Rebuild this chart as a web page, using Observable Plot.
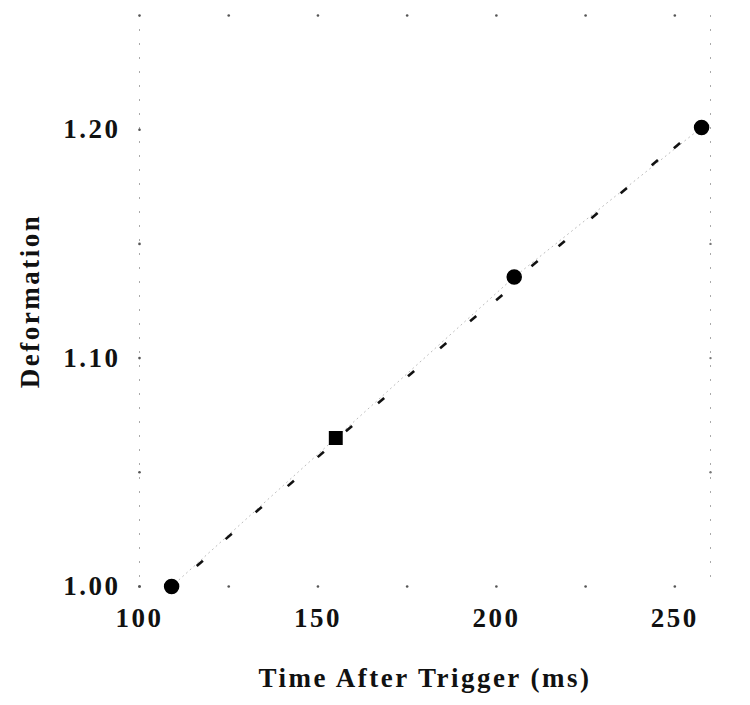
<!DOCTYPE html>
<html>
<head>
<meta charset="utf-8">
<script src="https://cdn.jsdelivr.net/npm/d3@7"></script>
<script src="https://cdn.jsdelivr.net/npm/@observablehq/plot@0.6"></script>
<style>
  body { margin: 0; background: #fff; }
  #chart svg { display: block; }
  #chart svg text { font-size: 27px; letter-spacing: 2.5px; font-weight: bold; }
</style>
</head>
<body>
<div id="chart"></div>
<script>
// Large markers (measured points)
const bigTime = [109, 155, 205, 257.5];
const bigDef = [1.000, 1.065, 1.1355, 1.201];
const bigShape = ["circle", "square", "circle", "circle"];

// Small dash markers along the fitted curve
const smallTime = [116.9, 125.0, 133.4, 142.4, 150.8, 158.7, 167.7, 176.1, 185.1, 193.5, 200.8, 210.7, 218.3, 227.5, 235.7, 244.4, 250.6];
const smallDef = [1.0101, 1.0219, 1.0337, 1.0451, 1.0578, 1.0691, 1.0814, 1.0932, 1.1055, 1.1173, 1.1265, 1.1414, 1.1501, 1.1624, 1.1733, 1.1856, 1.1930];

// Axes
const xLabelTicks = [100, 150, 200, 250];
const xMinorTicks = [100, 125, 150, 175, 200, 225, 250];
const yLabelTicks = [1.00, 1.10, 1.20];
const yMinorTicks = [1.00, 1.05, 1.10, 1.15, 1.20];
const xDomain = [100, 260];
const yDomain = [1.00, 1.25];

const big = bigTime.map((t, i) => ({t, d: bigDef[i], s: bigShape[i]}));
const small = smallTime.map((t, i) => ({t, d: smallDef[i]}));

const dash = {
  draw(ctx, size) {
    const r = Math.sqrt(size) / 2;
    ctx.moveTo(-r, r * 0.85);
    ctx.lineTo(r, -r * 0.85);
  }
};

const chart = Plot.plot({
  width: 750,
  height: 705,
  marginLeft: 139,
  marginRight: 40,
  marginTop: 15,
  marginBottom: 119,
  style: {fontFamily: "'Liberation Serif', 'DejaVu Serif', serif", fontWeight: "bold", fontSize: "27px", color: "#111", background: "#fff"},
  x: {domain: xDomain},
  y: {domain: yDomain},
  symbol: {domain: ["circle", "square"], range: ["circle", "square"]},
  marks: [
    // faint frame sides
    Plot.ruleX([xDomain[0], xDomain[1]], {stroke: "#aaa", strokeWidth: 1, strokeDasharray: "2,12"}),
    // tick dots on frame
    Plot.dot(xMinorTicks, {x: d => d, y: yDomain[0], r: 1.3, fill: "#555", stroke: null}),
    Plot.dot(xMinorTicks, {x: d => d, y: yDomain[1], r: 1.3, fill: "#555", stroke: null}),
    Plot.dot(yMinorTicks, {y: d => d, x: xDomain[0], r: 1.3, fill: "#555", stroke: null}),
    Plot.dot(yMinorTicks.slice(1, 4), {y: d => d, x: xDomain[1], r: 1.2, fill: "#777", stroke: null}),
    // axes labels
    Plot.axisX(xLabelTicks, {anchor: "bottom", tickSize: 0, tickPadding: 21, tickFormat: d => String(d),
      label: "Time After Trigger (ms)", labelAnchor: "center", labelOffset: 100, labelArrow: "none"}),
    Plot.axisY(yLabelTicks, {anchor: "left", tickSize: 0, tickPadding: 19, tickFormat: d => d.toFixed(2),
      label: "Deformation", labelAnchor: "center", labelOffset: 120, labelArrow: "none"}),
    // faint fit line
    Plot.line(big, {x: "t", y: "d", stroke: "#bbb", strokeWidth: 1, strokeDasharray: "1,4"}),
    // small dash markers
    Plot.dot(small, {x: "t", y: "d", symbol: () => dash, r: 3.5, stroke: "#111", strokeWidth: 2.6, fill: "none"}),
    // large measured points
    Plot.dot(big, {x: "t", y: "d", symbol: "s", r: 7, fill: "#000", stroke: "#000"})
  ]
});

document.getElementById("chart").appendChild(chart);
</script>
</body>
</html>
